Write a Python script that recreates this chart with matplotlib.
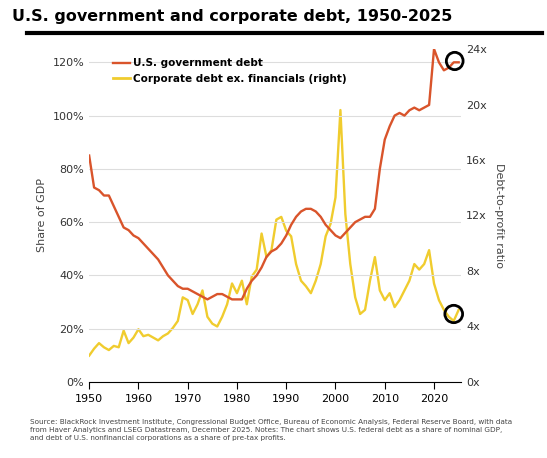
import matplotlib.pyplot as plt
from matplotlib.patches import Ellipse

years = list(range(1950, 2026))
gov_debt = [85, 73, 72, 70, 70, 66, 62, 58, 57, 55,
            54, 52, 50, 48, 46, 43, 40, 38, 36, 35,
            35, 34, 33, 32, 31, 32, 33, 33, 32, 31,
            31, 31, 35, 38, 40, 43, 47, 49, 50, 52,
            55, 59, 62, 64, 65, 65, 64, 62, 59, 57,
            55, 54, 56, 58, 60, 61, 62, 62, 65, 80,
            91, 96, 100, 101, 100, 102, 103, 102, 103, 104,
            125, 120, 117, 118, 120, 120]
corp_debt = [1.9, 2.4, 2.8, 2.5, 2.3, 2.6, 2.5, 3.7, 2.8, 3.2,
             3.8, 3.3, 3.4, 3.2, 3.0, 3.3, 3.5, 3.9, 4.4, 6.1,
             5.9, 4.9, 5.6, 6.6, 4.7, 4.2, 4.0, 4.7, 5.6, 7.1,
             6.4, 7.3, 5.6, 7.6, 8.1, 10.7, 9.0, 9.5, 11.7, 11.9,
             10.9, 10.5, 8.5, 7.3, 6.9, 6.4, 7.3, 8.5, 10.5, 11.4,
             13.3, 19.6, 12.1, 8.5, 6.1, 4.9, 5.2, 7.3, 9.0, 6.6,
             5.9, 6.4, 5.4, 5.9, 6.6, 7.3, 8.5, 8.1, 8.5, 9.5,
             7.1, 5.9, 5.2, 4.7, 4.4, 5.2]

red = "#d9542b"
yellow = "#f0cc2e"

fig = plt.figure(figsize=(5.47, 4.58), dpi=100)
ax = fig.add_axes([0.163, 0.166, 0.68, 0.727])
ax2 = ax.twinx()

ax.plot(years, gov_debt, color=red, lw=1.7, zorder=3)
ax2.plot(years, corp_debt, color=yellow, lw=1.7)
ax.set_zorder(ax2.get_zorder() + 1)
ax.patch.set_visible(False)

ax.set_xlim(1950, 2025.5)
ax.set_ylim(0, 125)
ax2.set_ylim(0, 24)
ax.set_xticks(range(1950, 2030, 10))
ax.set_yticks(range(0, 121, 20))
ax.set_yticklabels([f"{v}%" for v in range(0, 121, 20)])
ax2.set_yticks(range(0, 25, 4))
ax2.set_yticklabels([f"{v}x" for v in range(0, 25, 4)])
ax.yaxis.grid(True, color="#dddddd", lw=0.8)
ax.set_axisbelow(True)
for a in (ax, ax2):
    for s in ("top", "left", "right"):
        a.spines[s].set_visible(False)
    a.tick_params(axis="y", length=0, labelsize=8, colors="#333333")
ax2.spines["bottom"].set_visible(False)
ax.tick_params(axis="x", labelsize=8, direction="out", length=5)
ax.set_ylabel("Share of GDP", fontsize=8, color="#444444")
ax2.set_ylabel("Debt-to-profit ratio", fontsize=8, color="#444444", rotation=270, labelpad=12)

ax.plot([], [], color=yellow, lw=2)
ax.legend(["U.S. government debt", "Corporate debt ex. financials (right)"],
          loc="upper left", bbox_to_anchor=(0.04, 1.0), frameon=False,
          handlelength=1.6, handletextpad=0.3, labelspacing=0.5,
          prop={"weight": "bold", "size": 7.5})

ax.add_patch(Ellipse((2024.2, 120.5), 3.4, 6.5, fill=False, ec="black", lw=2,
                     zorder=5, clip_on=False))
ax2.add_patch(Ellipse((2024.0, 4.9), 3.6, 1.25, fill=False, ec="black", lw=2,
                      zorder=5, clip_on=False))

fig.text(0.022, 0.955, "U.S. government and corporate debt, 1950-2025",
         fontsize=11.5, weight="bold")
fig.add_artist(plt.Line2D([0.05, 0.99], [0.928, 0.928], color="black", lw=3))
fig.text(0.055, 0.04, "Source: BlackRock Investment Institute, Congressional Budget Office, Bureau of Economic Analysis, Federal Reserve Board, with data\n"
         "from Haver Analytics and LSEG Datastream, December 2025. Notes: The chart shows U.S. federal debt as a share of nominal GDP,\n"
         "and debt of U.S. nonfinancial corporations as a share of pre-tax profits.",
         fontsize=5.2, color="#444444", linespacing=1.4)

fig.savefig("out.png")
